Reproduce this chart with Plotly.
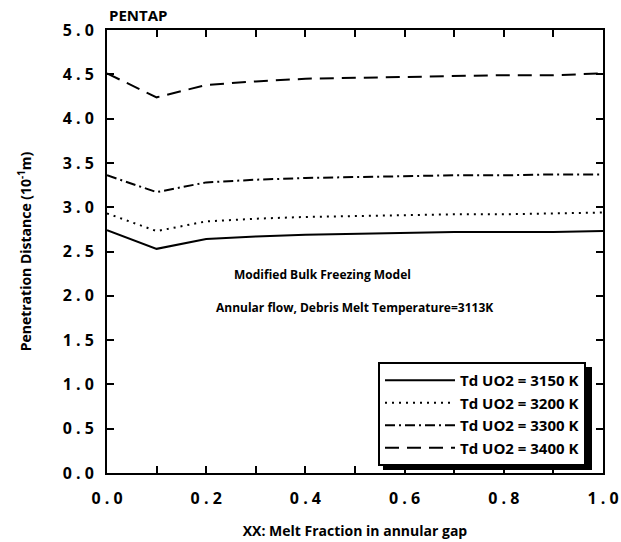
import plotly.graph_objects as go

# Melt fraction in the annular gap
melt_fraction = [0.0, 0.1, 0.2, 0.3, 0.4, 0.5, 0.6, 0.7, 0.8, 0.9, 1.0]

# Penetration distance (10^-1 m) for each UO2 debris temperature
pen_3150 = [2.74, 2.53, 2.64, 2.67, 2.69, 2.70, 2.71, 2.72, 2.72, 2.72, 2.73]
pen_3200 = [2.93, 2.73, 2.84, 2.87, 2.89, 2.90, 2.91, 2.92, 2.92, 2.93, 2.94]
pen_3300 = [3.36, 3.17, 3.28, 3.31, 3.33, 3.34, 3.35, 3.36, 3.36, 3.37, 3.37]
pen_3400 = [4.51, 4.24, 4.38, 4.42, 4.45, 4.46, 4.47, 4.48, 4.49, 4.49, 4.51]

series_names = ["Td UO2 = 3150 K", "Td UO2 = 3200 K", "Td UO2 = 3300 K", "Td UO2 = 3400 K"]
series_values = [pen_3150, pen_3200, pen_3300, pen_3400]
series_dash = ["solid", "2px,5px", "10px,4px,2px,4px", "14px,8px"]

y_tick_vals = [0.0, 0.5, 1.0, 1.5, 2.0, 2.5, 3.0, 3.5, 4.0, 4.5, 5.0]
y_tick_text = ["0 . 0", "0 . 5", "1 . 0", "1 . 5", "2 . 0", "2 . 5",
               "3 . 0", "3 . 5", "4 . 0", "4 . 5", "5 . 0"]
x_tick_vals = [0.0, 0.2, 0.4, 0.6, 0.8, 1.0]
x_tick_text = ["0 . 0", "0 . 2", "0 . 4", "0 . 6", "0 . 8", "1 . 0"]

FONT = "Open Sans"

fig = go.Figure()
for i, (name, vals, dash) in enumerate(zip(series_names, series_values, series_dash)):
    fig.add_trace(go.Scatter(
        x=melt_fraction, y=vals, mode="lines", name=name,
        legendgroup=f"g{i}",
        line=dict(color="black", width=2, dash=dash),
    ))

W, H = 621, 542
ML, MR, MT, MB = 107, 18, 30, 69
pw, ph = W - ML - MR, H - MT - MB

def px_x(X):
    return (X - ML) / pw

def px_y(Y):
    return (H - MB - Y) / ph

# legend box and its drop shadow
leg_left, leg_top, leg_right, leg_bottom = 378, 362, 587, 465
shadow = 5
fig.add_shape(type="rect", xref="paper", yref="paper",
              x0=px_x(leg_left + shadow), x1=px_x(leg_right + shadow),
              y0=px_y(leg_bottom + shadow), y1=px_y(leg_top + shadow),
              fillcolor="black", line=dict(width=0), layer="above")

fig.update_layout(
    width=W, height=H,
    margin=dict(l=ML, r=MR, t=MT, b=MB, autoexpand=False),
    paper_bgcolor="white", plot_bgcolor="white",
    font=dict(family=FONT, color="black"),
    showlegend=True,
    legend=dict(
        x=px_x(leg_left), y=px_y(leg_top), xanchor="left", yanchor="top",
        bgcolor="white", bordercolor="black", borderwidth=2,
        font=dict(family=FONT, size=15, weight="bold"),
        itemwidth=70, tracegroupgap=0,
    ),
    xaxis=dict(
        range=[0, 1], tickvals=x_tick_vals, ticktext=x_tick_text,
        automargin=False,
        ticks="inside", ticklen=7, tickwidth=2, tickcolor="black",
        minor=dict(dtick=0.1, ticks="inside", ticklen=7, tickwidth=2, tickcolor="black"),
        showline=True, linewidth=2, linecolor="black", mirror="allticks",
        showgrid=False, zeroline=False, ticklabelstandoff=10,
        tickfont=dict(family=FONT, size=16, weight="bold"),
        title=dict(text="XX: Melt Fraction in annular gap",
                   font=dict(family=FONT, size=14, weight="bold"), standoff=18),
    ),
    yaxis=dict(
        range=[0, 5], tickvals=y_tick_vals, ticktext=y_tick_text,
        automargin=False,
        ticks="inside", ticklen=7, tickwidth=2, tickcolor="black",
        showline=True, linewidth=2, linecolor="black", mirror="allticks",
        showgrid=False, zeroline=False, ticklabelstandoff=8,
        tickfont=dict(family=FONT, size=16, weight="bold"),
        title=dict(text="Penetration Distance (10<sup>-1</sup>m)",
                   font=dict(family=FONT, size=14, weight="bold"), standoff=28),
    ),
)

fig.add_annotation(text="PENTAP", xref="paper", yref="paper", x=0, y=1,
                   xanchor="left", yanchor="bottom", yshift=3, showarrow=False,
                   font=dict(family=FONT, size=15, weight="bold"))
fig.add_annotation(text="Modified Bulk Freezing Model", xref="x", yref="y",
                   x=0.435, y=2.235, showarrow=False,
                   font=dict(family=FONT, size=12, weight="bold"))
fig.add_annotation(text="Annular flow, Debris Melt Temperature=3113K", xref="x", yref="y",
                   x=0.498, y=1.87, showarrow=False,
                   font=dict(family=FONT, size=12, weight="bold"))

fig.write_html("out.html")
